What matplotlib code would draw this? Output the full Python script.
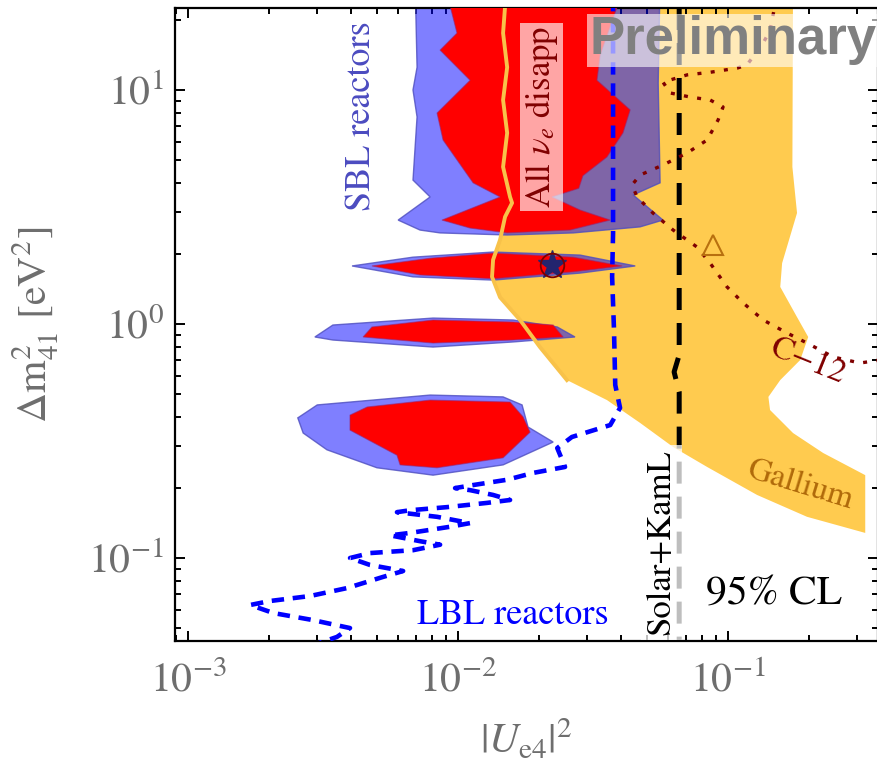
import matplotlib.pyplot as plt
import numpy as np

plt.rcParams['font.family'] = 'STIXGeneral'
plt.rcParams['mathtext.fontset'] = 'stix'

# SBL reactors, upper island (outer = blue, inner = red)
sbl_top_blue_u = [6.93e-3, 7.05e-3, 6.81e-3, 7.05e-3, 6.81e-3, 7.88e-3, 6.00e-3, 7.23e-3, 8.58e-3,
                  1.52e-2, 2.67e-2, 4.72e-2, 5.74e-2, 4.45e-2, 5.60e-2, 5.51e-2, 5.60e-2]
sbl_top_blue_dm2 = [30, 12.5, 10.0, 7.67, 4.12, 3.49, 2.78, 2.52, 2.45,
                    2.40, 2.45, 2.60, 2.78, 3.56, 4.01, 10.7, 30]
sbl_top_red_u = [8.80e-3, 9.91e-3, 8.58e-3, 1.108e-2, 8.36e-3, 8.80e-3, 1.137e-2, 1.431e-2, 8.72e-3,
                 1.108e-2, 1.52e-2, 2.60e-2, 3.66e-2, 2.83e-2, 2.23e-2, 2.80e-2, 2.90e-2, 3.56e-2,
                 4.08e-2, 4.34e-2, 3.27e-2, 3.36e-2, 4.23e-2]
sbl_top_red_dm2 = [30, 17.5, 14.8, 11.0, 7.97, 6.11, 4.01, 3.49, 2.78,
                   2.57, 2.45, 2.52, 2.78, 3.07, 3.49, 3.80, 4.30, 5.17,
                   6.55, 8.22, 11.0, 14.1, 30]

# SBL reactors, three lower islands
sbl_i1_blue_u = [4.05e-3, 6.81e-3, 1.348e-2, 2.83e-2, 4.53e-2, 2.83e-2, 1.348e-2, 6.81e-3]
sbl_i1_blue_dm2 = [1.77, 1.93, 2.03, 1.97, 1.77, 1.65, 1.54, 1.59]
sbl_i1_red_u = [4.80e-3, 7.88e-3, 1.348e-2, 2.67e-2, 4.05e-2, 2.67e-2, 1.348e-2, 7.23e-3]
sbl_i1_red_dm2 = [1.77, 1.91, 2.01, 1.93, 1.77, 1.67, 1.56, 1.62]

sbl_i2_blue_u = [2.95e-3, 3.44e-3, 8.08e-3, 1.599e-2, 2.33e-2, 2.71e-2, 1.599e-2, 8.08e-3, 3.44e-3]
sbl_i2_blue_dm2 = [0.880, 0.990, 1.06, 1.04, 0.971, 0.880, 0.838, 0.797, 0.854]
sbl_i2_red_u = [4.45e-3, 4.80e-3, 8.08e-3, 1.599e-2, 2.25e-2, 2.45e-2, 1.599e-2, 8.08e-3]
sbl_i2_red_dm2 = [0.880, 0.971, 1.04, 1.02, 0.990, 0.880, 0.854, 0.829]

sbl_i3_blue_u = [2.55e-3, 3.01e-3, 7.88e-3, 1.468e-2, 1.726e-2, 1.816e-2, 2.25e-2, 1.468e-2,
                 8.08e-3, 5.01e-3, 3.27e-3, 2.67e-3]
sbl_i3_blue_dm2 = [0.397, 0.451, 0.497, 0.488, 0.451, 0.363, 0.313, 0.250,
                   0.226, 0.243, 0.290, 0.342]
sbl_i3_red_u = [3.98e-3, 4.61e-3, 7.88e-3, 1.558e-2, 1.741e-2, 1.848e-2, 1.468e-2, 8.36e-3,
                6.10e-3, 5.94e-3, 3.98e-3]
sbl_i3_red_dm2 = [0.408, 0.442, 0.473, 0.464, 0.401, 0.345, 0.268, 0.243,
                  0.250, 0.275, 0.352]

# All nu_e disappearance contour (also left edge of the Gallium band)
allve_u = [1.52e-2, 1.468e-2, 1.52e-2, 1.468e-2, 1.52e-2, 1.468e-2, 1.558e-2, 1.585e-2, 1.493e-2,
           1.431e-2, 1.348e-2, 1.336e-2, 1.431e-2, 1.697e-2, 2.01e-2, 2.53e-2]
allve_dm2 = [30, 17.5, 12.5, 9.06, 6.55, 4.69, 3.49, 3.29, 2.87,
             2.29, 1.88, 1.59, 1.30, 1.04, 0.797, 0.576]

# Gallium band, lower edge then upper edge
gallium_low_u = [3.56e-2, 4.72e-2, 6.26e-2, 8.36e-2, 0.128, 0.196, 0.322]
gallium_low_dm2 = [0.473, 0.378, 0.298, 0.245, 0.186, 0.150, 0.128]
gallium_up_u = [0.322, 0.225, 0.174, 0.143, 0.141, 0.156, 0.185, 0.198, 0.180, 0.156, 0.1585,
                0.180, 0.173, 0.174]
gallium_up_dm2 = [0.226, 0.281, 0.342, 0.429, 0.488, 0.576, 0.702, 0.880, 1.07, 1.44, 1.82,
                  2.98, 4.69, 30]

# LBL reactors
lbl_u = [3.75e-2, 3.75e-2, 3.72e-2, 3.78e-2, 3.82e-2, 3.98e-2, 3.66e-2, 2.64e-2, 2.33e-2, 2.49e-2,
         1.896e-2, 1.519e-2, 1.137e-2, 9.75e-3, 1.108e-2, 1.348e-2, 1.558e-2, 1.280e-2, 9.11e-3,
         6.64e-3, 5.94e-3, 8.36e-3, 1.108e-2, 9.34e-3, 6.64e-3, 5.60e-3, 7.23e-3, 8.58e-3,
         6.81e-3, 4.72e-3, 3.98e-3, 4.72e-3, 6.26e-3, 5.27e-3, 3.88e-3, 2.83e-3, 2.01e-3,
         1.70e-3, 2.07e-3, 2.90e-3, 3.98e-3, 3.56e-3, 2.83e-3]
lbl_dm2 = [30, 2.45, 1.59, 0.943, 0.549, 0.438, 0.370, 0.329, 0.295, 0.245,
           0.231, 0.216, 0.205, 0.199, 0.195, 0.186, 0.177, 0.172, 0.165,
           0.160, 0.157, 0.150, 0.141, 0.136, 0.128, 0.125, 0.118, 0.114,
           0.108, 0.105, 0.100, 0.0934, 0.0880, 0.0830, 0.0744, 0.0688, 0.0655,
           0.0630, 0.0582, 0.0543, 0.0502, 0.0460, 0.042]

# Solar + KamLAND bound
solar_u = [6.59e-2, 6.59e-2, 6.31e-2, 6.59e-2, 6.59e-2]
solar_dm2 = [22.4, 0.737, 0.624, 0.512, 0.03]

# C-12
c12_u = [0.156, 0.143, 0.135, 0.1175, 0.108, 8.58e-2, 7.05e-2, 5.74e-2, 6.10e-2, 7.23e-2, 8.58e-2,
         9.58e-2, 9.18e-2, 8.36e-2, 7.05e-2, 5.74e-2, 4.72e-2, 4.41e-2, 4.60e-2, 5.27e-2,
         6.26e-2, 7.68e-2, 8.58e-2, 9.91e-2, 0.1137, 0.1349, 0.1654, 0.196, 0.245, 0.308, 0.366]
c12_dm2 = [30, 18.0, 15.9, 12.8, 12.4, 11.9, 11.6, 10.8, 9.71, 9.33, 9.06,
           8.46, 7.44, 6.11, 5.38, 4.78, 4.33, 3.93, 3.49, 2.98,
           2.52, 2.13, 1.82, 1.44, 1.23, 1.04, 0.915, 0.829, 0.723, 0.681, 0.702]

best_fit = (2.23e-2, 1.79)
c12_point = (8.80e-2, 2.18)

fig = plt.figure(figsize=(8.77, 7.66), dpi=100)
ax = fig.add_axes([175 / 877, 1 - 641 / 766, 703 / 877, 633 / 766])
ax.set_xscale('log')
ax.set_yscale('log')
ax.set_xlim(8.95e-4, 0.359)
ax.set_ylim(0.0442, 22.4)

yellow = '#FFCB4F'
gal_u = allve_u + gallium_low_u + gallium_up_u
gal_dm2 = allve_dm2 + gallium_low_dm2 + gallium_up_dm2
ax.fill(gal_u, gal_dm2, color=yellow, lw=0, zorder=1)

blues = [(sbl_top_blue_u, sbl_top_blue_dm2), (sbl_i1_blue_u, sbl_i1_blue_dm2),
         (sbl_i2_blue_u, sbl_i2_blue_dm2), (sbl_i3_blue_u, sbl_i3_blue_dm2)]
reds = [(sbl_top_red_u, sbl_top_red_dm2), (sbl_i1_red_u, sbl_i1_red_dm2),
        (sbl_i2_red_u, sbl_i2_red_dm2), (sbl_i3_red_u, sbl_i3_red_dm2)]
for u, m in blues:
    ax.fill(u, m, facecolor=(0, 0, 1, 0.5), edgecolor=(0.3, 0.3, 0.75, 0.8), lw=1, zorder=2)
for u, m in reds:
    ax.fill(u, m, facecolor='red', edgecolor=(0.6, 0.15, 0.45, 0.6), lw=0.8, zorder=3)

ax.plot(allve_u, allve_dm2, color='#F8C24A', lw=2.8, zorder=4)
ax.plot(lbl_u, lbl_dm2, color='blue', lw=3.3, ls=(0, (2.7, 1.9)), zorder=5)
ax.plot(solar_u, solar_dm2, color='black', lw=3.6, ls=(0, (4.4, 2.6)), zorder=5)
ax.plot(c12_u, c12_dm2, color='#7f0000', lw=2.4, ls=(0, (1.2, 2.8)), zorder=5)

ax.plot(*best_fit, marker='*', ms=21, color='#23246e', ls='none', zorder=6)
ax.plot(*best_fit, marker='o', ms=17, mfc='none', mec='#7a0000', mew=1.3, ls='none', zorder=6)
ax.plot(*c12_point, marker='^', ms=15, mfc='none', mec='#b8700f', mew=1.5, ls='none', zorder=6)

ax.text(0.266, 0.829, 'SBL reactors', transform=ax.transAxes, rotation=90, color='#4b4bc0',
        fontsize=26, ha='center', va='center', zorder=7)
ax.text(0.521, 0.828, r'All $\nu_e$ disapp', transform=ax.transAxes, rotation=90, color='#800000',
        fontsize=25, ha='center', va='center', zorder=7,
        bbox=dict(facecolor='white', edgecolor='none', alpha=0.65, pad=2))
ax.text(0.692, 0.156, 'Solar+KamL', transform=ax.transAxes, rotation=90, color='black',
        fontsize=25, ha='center', va='center', zorder=7,
        bbox=dict(facecolor='white', edgecolor='none', alpha=0.75, pad=3.5))
ax.text(0.852, 0.074, '95% CL', transform=ax.transAxes, color='black', fontsize=30,
        ha='center', va='center', zorder=7)
ax.text(0.481, 0.041, 'LBL reactors', transform=ax.transAxes, color='blue', fontsize=26,
        ha='center', va='center', zorder=7)
ax.text(0.889, 0.246, 'Gallium', transform=ax.transAxes, color='#b06a0a', fontsize=24,
        rotation=-17, ha='center', va='center', zorder=7)
ax.text(0.900, 0.441, 'C\u221212', transform=ax.transAxes, color='#800000', fontsize=24,
        rotation=-22, ha='center', va='center', zorder=7)
ax.text(0.589, 0.949, 'Preliminary', transform=ax.transAxes, color='#808080', fontsize=38,
        family='Liberation Sans', weight='bold', ha='left', va='center', zorder=8,
        bbox=dict(facecolor='white', edgecolor='none', alpha=0.6, pad=1))

ax.tick_params(which='both', direction='in', top=True, right=True, width=1.4,
               labelsize=30, labelcolor='#6e6e6e')
ax.tick_params(axis='x', which='both', pad=15)
ax.tick_params(axis='y', which='both', pad=8)
ax.tick_params(which='major', length=7)
ax.tick_params(which='minor', length=4)
for s in ax.spines.values():
    s.set_linewidth(1.6)

ax.set_xlabel(r'$|U_{\mathrm{e}4}|^2$', fontsize=30, color='#6e6e6e', va='top')
ax.xaxis.set_label_coords(0.5, -0.122)
ax.set_ylabel(r'$\Delta\mathrm{m}^2_{41}$ [eV$^2$]', fontsize=30, color='#6e6e6e', va='center')
ax.yaxis.set_label_coords(-0.198, 0.5)

fig.savefig('out.png', dpi=100)
